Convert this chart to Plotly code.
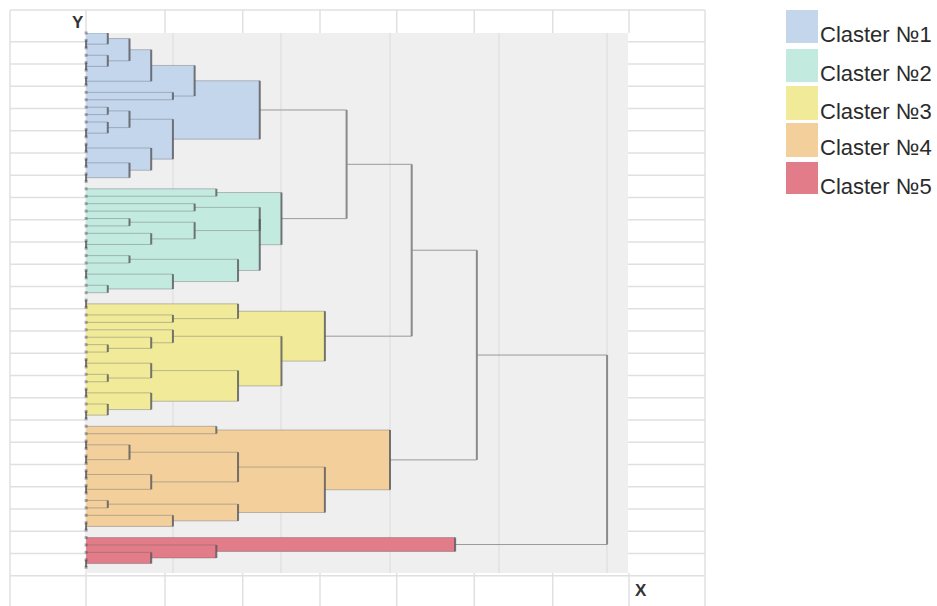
import plotly.graph_objects as go

# ---------------- data ----------------
LEAF = "o"
cluster_names = ["Claster №1", "Claster №2", "Claster №3", "Claster №4", "Claster №5"]

# nested dendrogram subtrees: [merge height, left, right], leaves = LEAF
cluster1 = [8,
            [5,
             [3,
              [2, [1, LEAF, [0, LEAF, LEAF]], [1, LEAF, [0, LEAF, LEAF]]],
              [0, LEAF, LEAF]],
             [4, LEAF, LEAF]],
            [4,
             [2, [1, LEAF, LEAF], [1, LEAF, [0, LEAF, LEAF]]],
             [3, [0, LEAF, LEAF], [2, [0, LEAF, LEAF], [0, LEAF, LEAF]]]]]

cluster2 = [9,
            [6, LEAF, LEAF],
            [8,
             [8, [5, LEAF, LEAF], [5, [2, LEAF, LEAF], [3, LEAF, [0, LEAF, LEAF]]]],
             [7, [2, LEAF, LEAF], [4, [0, LEAF, LEAF], [1, LEAF, LEAF]]]]]

cluster3 = [11,
            [7, [0, LEAF, LEAF], [4, LEAF, LEAF]],
            [9,
             [4, LEAF, [3, LEAF, [1, LEAF, LEAF]]],
             [7,
              [3, [0, LEAF, LEAF], [1, LEAF, LEAF]],
              [3, [0, LEAF, LEAF], [1, LEAF, [0, LEAF, LEAF]]]]]]

cluster4 = [14,
            [6, LEAF, LEAF],
            [11,
             [7, [2, [0, LEAF, LEAF], [0, LEAF, LEAF]], [3, [0, LEAF, LEAF], [0, LEAF, LEAF]]],
             [7, [1, LEAF, LEAF], [4, LEAF, [0, LEAF, LEAF]]]]]

cluster5 = [17, LEAF, [6, LEAF, [3, LEAF, [0, LEAF, LEAF]]]]

upper_heights = [12, 15, 18, 24]   # merges of clusters 1+2, +3, +4, +5

# ---------------- styles ----------------
fill_colors = ["#c4d6ec", "#c2eadf", "#f1eb99", "#f2cf9b", "#e17c88"]
FONT = "Liberation Sans, Arial, sans-serif"

# ---------------- dendrogram geometry ----------------
def place(node, counter, cid):
    if node == LEAF:
        y = counter[0]
        counter[0] += 1
        return {"h": 0.0, "y": float(y), "leaf": True, "cid": cid}
    h, a, b = node
    A = place(a, counter, cid)
    B = place(b, counter, cid)
    return {"h": float(h), "y": (A["y"] + B["y"]) / 2, "leaf": False, "a": A, "b": B, "cid": cid}

counter = [0]
subs = [place(t, counter, i) for i, t in enumerate([cluster1, cluster2, cluster3, cluster4, cluster5])]
n_leaves = counter[0]

top = subs[0]
for k, h in enumerate(upper_heights):
    B = subs[k + 1]
    top = {"h": float(h), "y": (top["y"] + B["y"]) / 2, "leaf": False, "a": top, "b": B, "cid": None}

groups = {cid: {"rx": [], "ry": [], "hx": [], "hy": [], "vx": [], "vy": [], "lx": [], "ly": []}
          for cid in list(range(5)) + [None]}

def walk(n):
    g = groups[n["cid"]]
    if n["leaf"]:
        g["lx"].append(0)
        g["ly"].append(n["y"])
        return
    A, B, h = n["a"], n["b"], n["h"]
    if h > 0 and n["cid"] is not None:
        g["rx"] += [0, h, h, 0, 0, None]
        g["ry"] += [A["y"], A["y"], B["y"], B["y"], A["y"], None]
    for c in (A, B):
        if c["h"] < h:
            g["hx"] += [c["h"], h, None]
            g["hy"] += [c["y"], c["y"], None]
    g["vx"] += [h, h, None]
    g["vy"] += [A["y"], B["y"], None]
    walk(A)
    walk(B)

walk(top)

fig = go.Figure()
for cid in range(5):
    g = groups[cid]
    fig.add_trace(go.Scatter(x=g["rx"], y=g["ry"], mode="lines", fill="toself",
                             fillcolor=fill_colors[cid], line=dict(width=0),
                             hoverinfo="skip", showlegend=False, name=cluster_names[cid]))
for cid in range(5):
    g = groups[cid]
    fig.add_trace(go.Scatter(x=g["hx"], y=g["hy"], mode="lines",
                             line=dict(color="rgba(95,95,105,0.38)", width=1),
                             hoverinfo="skip", showlegend=False))
g = groups[None]
fig.add_trace(go.Scatter(x=g["hx"], y=g["hy"], mode="lines",
                         line=dict(color="#9a9a9a", width=1), hoverinfo="skip", showlegend=False))
for cid in list(range(5)) + [None]:
    g = groups[cid]
    fig.add_trace(go.Scatter(x=g["vx"], y=g["vy"], mode="lines",
                             line=dict(color="rgba(85,85,90,0.8)" if cid is not None else "#8a8a8a", width=2),
                             hoverinfo="skip", showlegend=False))
for cid in range(5):
    g = groups[cid]
    fig.add_trace(go.Scatter(x=g["lx"], y=g["ly"], mode="markers",
                             marker=dict(symbol="square", size=3, color="rgba(70,70,85,0.45)"),
                             hoverinfo="skip", showlegend=False, cliponaxis=False))

# ---------------- layout ----------------
W, H = 937, 606
PL, PT, PR, PB = 85, 33, 628, 573
PW, PH = PR - PL, PB - PT

def px(x):
    return (x - PL) / PW

def py(y):
    return (PB - y) / PH

LC = "#e0e0e0"
shapes = []
def seg(x0, y0, x1, y1, color=LC, w=1.5):
    shapes.append(dict(type="line", xref="paper", yref="paper", x0=px(x0), y0=py(y0),
                       x1=px(x1), y1=py(y1), line=dict(color=color, width=w), layer="below"))

# outer spreadsheet-like frame
seg(10, 10, 705, 10)
seg(10, 10, 10, 606)
seg(705, 10, 705, 606)
col_x = [86, 165, 242.7, 320, 396.7, 474.3, 552.7, 629]
for x in col_x:
    seg(x, 10, x, PT)
    seg(x, PB, x, 606)
row_y = [41.7 + 22.25 * k for k in range(25)]
for y in row_y[:-1]:
    seg(10, y, PL, y)
    seg(PR, y, 705, y)
seg(10, row_y[-1], 705, row_y[-1])

# legend swatches
sw_y = [(10, 43), (49, 82), (86, 120), (123, 157), (162, 194)]
annotations = []
for i, (y0, y1) in enumerate(sw_y):
    shapes.append(dict(type="rect", xref="paper", yref="paper", x0=px(786), x1=px(818),
                       y0=py(y1), y1=py(y0), fillcolor=fill_colors[i], line=dict(width=0)))
    annotations.append(dict(xref="paper", yref="paper", x=px(818), y=py((y0 + y1) / 2 + 8),
                            text=cluster_names[i], showarrow=False, xanchor="left", yanchor="middle",
                            font=dict(family=FONT, size=22, color="#2b2b2b")))

annotations.append(dict(xref="paper", yref="paper", x=px(78), y=py(22), text="<b>Y</b>",
                        showarrow=False, xanchor="center", yanchor="middle",
                        font=dict(family=FONT, size=17, color="#333")))
annotations.append(dict(xref="paper", yref="paper", x=px(641), y=py(590), text="<b>X</b>",
                        showarrow=False, xanchor="center", yanchor="middle",
                        font=dict(family=FONT, size=17, color="#333")))

unit = (606 - 85) / 24.0
fig.update_layout(
    width=W, height=H,
    margin=dict(l=PL, r=W - PR, t=PT, b=H - PB, pad=0),
    paper_bgcolor="white", plot_bgcolor="#efefef",
    showlegend=False,
    shapes=shapes, annotations=annotations,
    xaxis=dict(range=[-0.05, PW / unit - 0.05], showgrid=True, gridcolor="#e5e5e5", gridwidth=2,
               tick0=4, dtick=5, showticklabels=False, zeroline=False, showline=False, ticks=""),
    yaxis=dict(range=[PH / 7.42, 0], showgrid=False, showticklabels=False, zeroline=False,
               showline=False, ticks=""),
)

fig.write_html("out.html", config={"displayModeBar": False},
               post_script="document.body.style.margin='0px';")
